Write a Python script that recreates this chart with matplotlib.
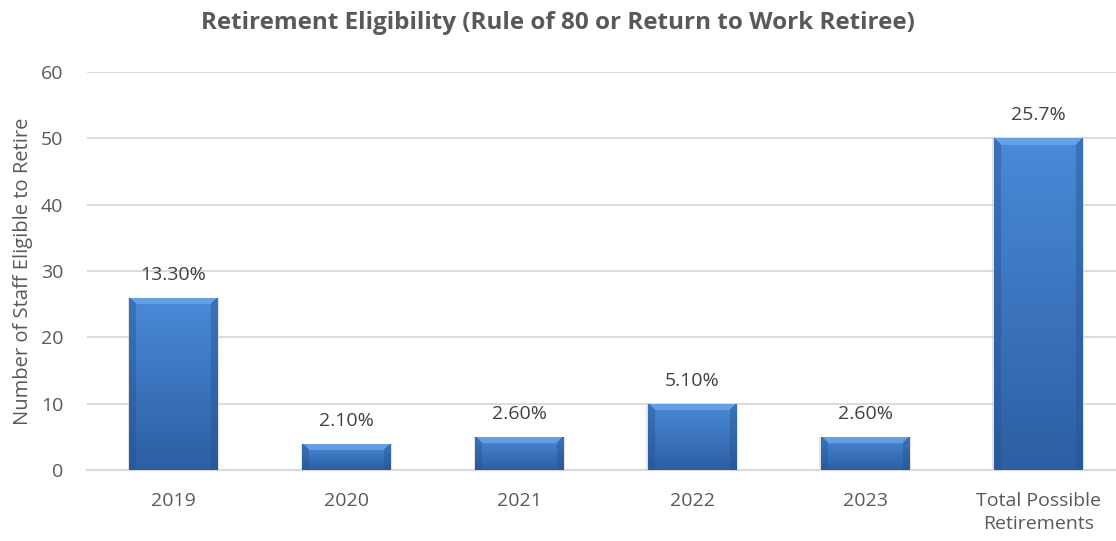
import numpy as np
import matplotlib.pyplot as plt
from matplotlib.colors import to_rgb

categories = ["2019", "2020", "2021", "2022", "2023", "Total Possible\nRetirements"]
staff_counts = [26, 4, 5, 10, 5, 50]
pct_labels = ["13.30%", "2.10%", "2.60%", "5.10%", "2.60%", "25.7%"]

plt.rcParams['font.family'] = ['Open Sans', 'DejaVu Sans']
gray = "#595959"

fig = plt.figure(figsize=(11.16, 5.41), dpi=100)
ax = fig.add_axes([0.078, 0.131, 0.922, 0.736])

x = np.arange(len(categories))
bar_w = 0.51
bars = ax.bar(x, staff_counts, width=bar_w, color="#3a76c4", zorder=2)

ax.set_xlim(-0.5, 5.45)
ax.set_ylim(0, 60)
ax.set_yticks(range(0, 61, 10))
ax.set_xticks(x)
ax.set_xticklabels(categories, linespacing=1.35)
ax.grid(axis="y", color="#d9d9d9", linewidth=1.3, zorder=0)
ax.set_axisbelow(True)
for s in ["top", "right", "left"]:
    ax.spines[s].set_visible(False)
ax.spines["bottom"].set_color("#d9d9d9")
ax.spines["bottom"].set_linewidth(1.6)
ax.tick_params(axis="both", length=0, labelsize=14, colors=gray)
ax.tick_params(axis="y", pad=17)
ax.tick_params(axis="x", pad=16)
ax.set_ylabel("Number of Staff Eligible to Retire", fontsize=14.5, color=gray, labelpad=6)

# bevelled gradient fill
fig.canvas.draw()
px_x = ax.transData.transform((1, 0))[0] - ax.transData.transform((0, 0))[0]
px_y = ax.transData.transform((0, 1))[1] - ax.transData.transform((0, 0))[1]
top_c = np.array(to_rgb("#4a8ad8"))
bot_c = np.array(to_rgb("#2c5fa3"))
bevel_c = np.array(to_rgb("#78b0ee"))
side_c = np.array(to_rgb("#23508c"))
bev = 7
for b in bars:
    x0, h, w = b.get_x(), b.get_height(), b.get_width()
    # soft shadow
    ax.bar(x0 + w / 2, h, width=w + 0.02, color="#c8c8c8", alpha=0.5, zorder=1.5)
    W = int(round(w * px_x))
    H = max(int(round(h * px_y)), 2)
    yy, xx = np.mgrid[0:H, 0:W]
    t = 1 - yy / max(H - 1, 1)
    img = bot_c + (top_c - bot_c) * t[..., None]
    dl, dr, dt = xx, W - 1 - xx, yy
    side = (np.minimum(dl, dr) < bev) & (dt >= np.minimum(dl, dr))
    topb = (dt < bev) & (dt < np.minimum(dl, dr))
    img[side] = img[side] * 0.6 + side_c * 0.4
    img[topb] = img[topb] * 0.4 + bevel_c * 0.6
    im = ax.imshow(img, extent=[x0, x0 + w, 0, h], origin="upper",
                   aspect="auto", zorder=3, interpolation="bilinear")
    im.set_clip_path(b)

for xi, v, lab in zip(x, staff_counts, pct_labels):
    ax.annotate(lab, (xi, v), xytext=(0, 10), textcoords="offset points",
                ha="center", va="bottom", fontsize=14, color="#404040")

ax.set_xlim(-0.5, 5.45)
ax.set_ylim(0, 60)

fig.text(0.5, 1 - 23 / 541, "Retirement Eligibility (Rule of 80 or Return to Work Retiree)",
         ha="center", va="center", fontsize=17.5, fontweight="bold", color=gray)

fig.savefig("out.png", dpi=100)
